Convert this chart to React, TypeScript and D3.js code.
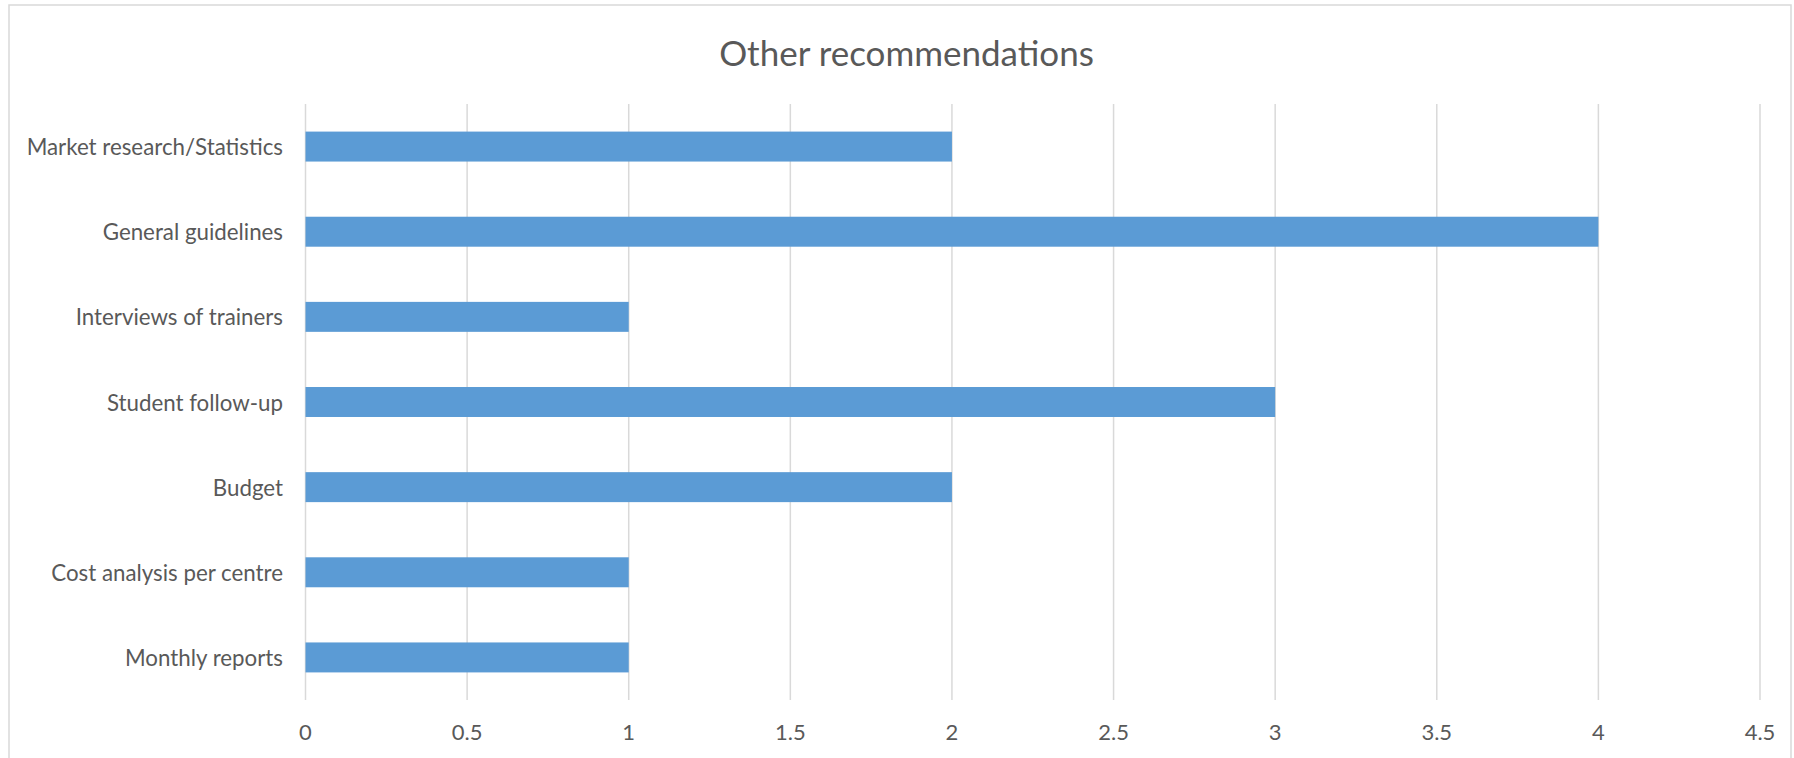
import React from "react";
import * as d3 from "d3";

const categories = [
  "Market research/Statistics",
  "General guidelines",
  "Interviews of trainers",
  "Student follow-up",
  "Budget",
  "Cost analysis per centre",
  "Monthly reports",
];
const values = [2, 4, 1, 3, 2, 1, 1];
const xTicks = [0, 0.5, 1, 1.5, 2, 2.5, 3, 3.5, 4, 4.5];
const title = "Other recommendations";

const W = 1794;
const H = 758;
const left = 305.5;
const right = 1760;
const top = 104;
const bottom = 700;
const textColor = "#595959";
const gridColor = "#d9d9d9";
const barColor = "#5b9bd5";
const font = "Lato, 'Open Sans', sans-serif";

export default function App() {
  const x = d3.scaleLinear().domain([0, 4.5]).range([left, right]);
  const y = d3
    .scaleBand<string>()
    .domain(categories)
    .range([top, bottom])
    .paddingInner(0.648)
    .paddingOuter(0.324);

  return (
    <svg
      width={W}
      height={H}
      style={{ position: "absolute", left: 0, top: 0, background: "#fff" }}
      fontFamily={font}
    >
      <rect x={0} y={0} width={W} height={H} fill="#fff" />
      <rect
        x={9}
        y={5}
        width={1782}
        height={H + 10}
        fill="none"
        stroke={gridColor}
        strokeWidth={1.5}
      />
      <text
        x={906.5}
        y={51.5}
        textAnchor="middle"
        dominantBaseline="central"
        fontSize={35}
        fill={textColor}
      >
        {title}
      </text>
      {xTicks.map((t) => (
        <g key={t}>
          <line
            x1={x(t)}
            x2={x(t)}
            y1={top}
            y2={bottom}
            stroke={gridColor}
            strokeWidth={1.5}
          />
          <text
            x={x(t)}
            y={731.5}
            textAnchor="middle"
            dominantBaseline="central"
            fontSize={22}
            fill={textColor}
          >
            {String(t)}
          </text>
        </g>
      ))}
      {categories.map((c, i) => (
        <g key={c}>
          <rect
            x={x(0)}
            y={y(c)!}
            width={x(values[i]) - x(0)}
            height={y.bandwidth()}
            fill={barColor}
          />
          <text
            x={283}
            y={y(c)! + y.bandwidth() / 2}
            textAnchor="end"
            dominantBaseline="central"
            fontSize={22.3}
            fill={textColor}
          >
            {c}
          </text>
        </g>
      ))}
    </svg>
  );
}
